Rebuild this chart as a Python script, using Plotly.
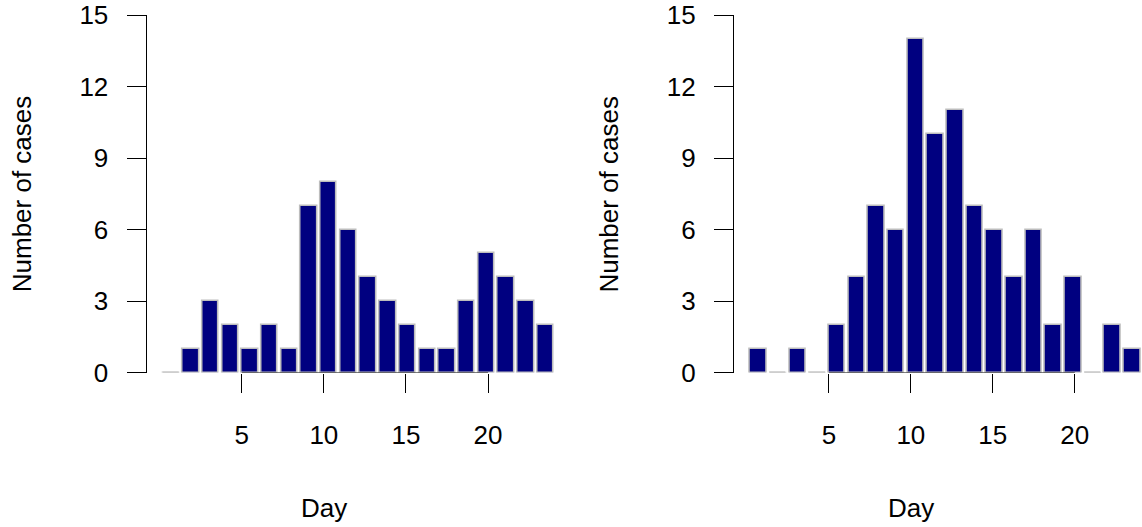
import numpy as np
import plotly.graph_objects as go

# Data (cases per bar, 20 bars each panel)
cases_left = [0, 1, 3, 2, 1, 2, 1, 7, 8, 6, 4, 3, 2, 1, 1, 3, 5, 4, 3, 2]
cases_right = [1, 0, 1, 0, 2, 4, 7, 6, 14, 10, 11, 7, 6, 4, 6, 2, 4, 0, 2, 1]
x_ticks = [5, 10, 15, 20]
y_ticks = [0, 3, 6, 9, 12, 15]
x_title = "Day"
y_title = "Number of cases"

W, H = 1142, 527
FONT = "Liberation Sans, Arial, sans-serif"
FS = 26
NAVY = "#000080"
GREY = "#bdbdbd"
PXU = 16.42  # pixels per x unit

def px_x(p):
    return p / W

def px_y(p):
    return 1 - p / H

# R barplot layout: width 1, space 0.2
def centers(n):
    return 0.7 + 1.2 * np.arange(n)

fig = go.Figure()

left0 = [146.5, 733.8]
panels = [
    (cases_left, "x", "y", [-0.8, 24.2]),
    (cases_right, "x2", "y2", [-0.8, 24.1]),
]
ydom = [px_y(372.5), px_y(15)]

for i, (vals, xa, ya, rng) in enumerate(panels):
    c = centers(len(vals))
    dom = [px_x(left0[i]), min(1.0, px_x(left0[i] + (rng[1] - rng[0]) * PXU))]
    fig.add_trace(go.Bar(
        x=c, y=vals, width=1.0, xaxis=xa, yaxis=ya,
        marker=dict(color=NAVY, line=dict(color=GREY, width=1.6)),
        cliponaxis=False, showlegend=False, hoverinfo="x+y",
    ))
    # zero-height bars are drawn by R as a grey border line
    zx, zy = [], []
    for cc, v in zip(c, vals):
        if v == 0:
            zx += [cc - 0.5, cc + 0.5, None]
            zy += [0, 0, None]
    fig.add_trace(go.Scatter(
        x=zx, y=zy, mode="lines", xaxis=xa, yaxis=ya,
        line=dict(color=GREY, width=1.6), cliponaxis=False,
        showlegend=False, hoverinfo="skip",
    ))
    sfx = "" if i == 0 else str(i + 1)
    fig.update_layout(**{
        "xaxis" + sfx: dict(
            domain=dom, range=rng, anchor="y" + sfx, automargin=False,
            tickvals=x_ticks, ticktext=[str(t) for t in x_ticks],
            showline=False, showgrid=False, zeroline=False,
            ticks="outside", ticklen=19, tickwidth=1, tickcolor="black",
            ticklabelstandoff=20, ticklabeloverflow="allow",
            tickfont=dict(family=FONT, size=FS, color="black"),
        ),
        "yaxis" + sfx: dict(
            domain=ydom, range=[0, 15], anchor="x" + sfx, automargin=False,
            tickvals=y_ticks, ticktext=[str(t) for t in y_ticks],
            showline=True, linecolor="black", linewidth=1,
            showgrid=False, zeroline=False,
            ticks="outside", ticklen=19, tickwidth=1, tickcolor="black",
            ticklabelstandoff=13, ticklabeloverflow="allow",
            tickfont=dict(family=FONT, size=FS, color="black"),
        ),
    })
    # R axis line spans from first to last tick
    fig.add_shape(type="line", xref=xa, yref=ya,
                  x0=x_ticks[0], x1=x_ticks[-1], y0=0, y1=0,
                  line=dict(color="black", width=1), layer="above")
    fig.add_annotation(text=x_title, xref=xa, x=10, yref="paper", y=px_y(508),
                       xanchor="center", yanchor="middle", showarrow=False,
                       font=dict(family=FONT, size=FS, color="black"))
    fig.add_annotation(text=y_title, xref=xa + " domain", x=0, xshift=-125,
                       yref=ya + " domain", y=0.5, textangle=-90,
                       xanchor="center", yanchor="middle", showarrow=False,
                       font=dict(family=FONT, size=FS, color="black"))

fig.update_layout(
    template="none",
    width=W, height=H, margin=dict(l=0, r=0, t=0, b=0, pad=0, autoexpand=False),
    paper_bgcolor="white", plot_bgcolor="white", bargap=0,
    font=dict(family=FONT, size=FS, color="black"),
)

fig.write_html(
    "out.html",
    config={"displayModeBar": False},
    post_script="document.body.style.margin='0';document.body.style.overflow='hidden';",
)
